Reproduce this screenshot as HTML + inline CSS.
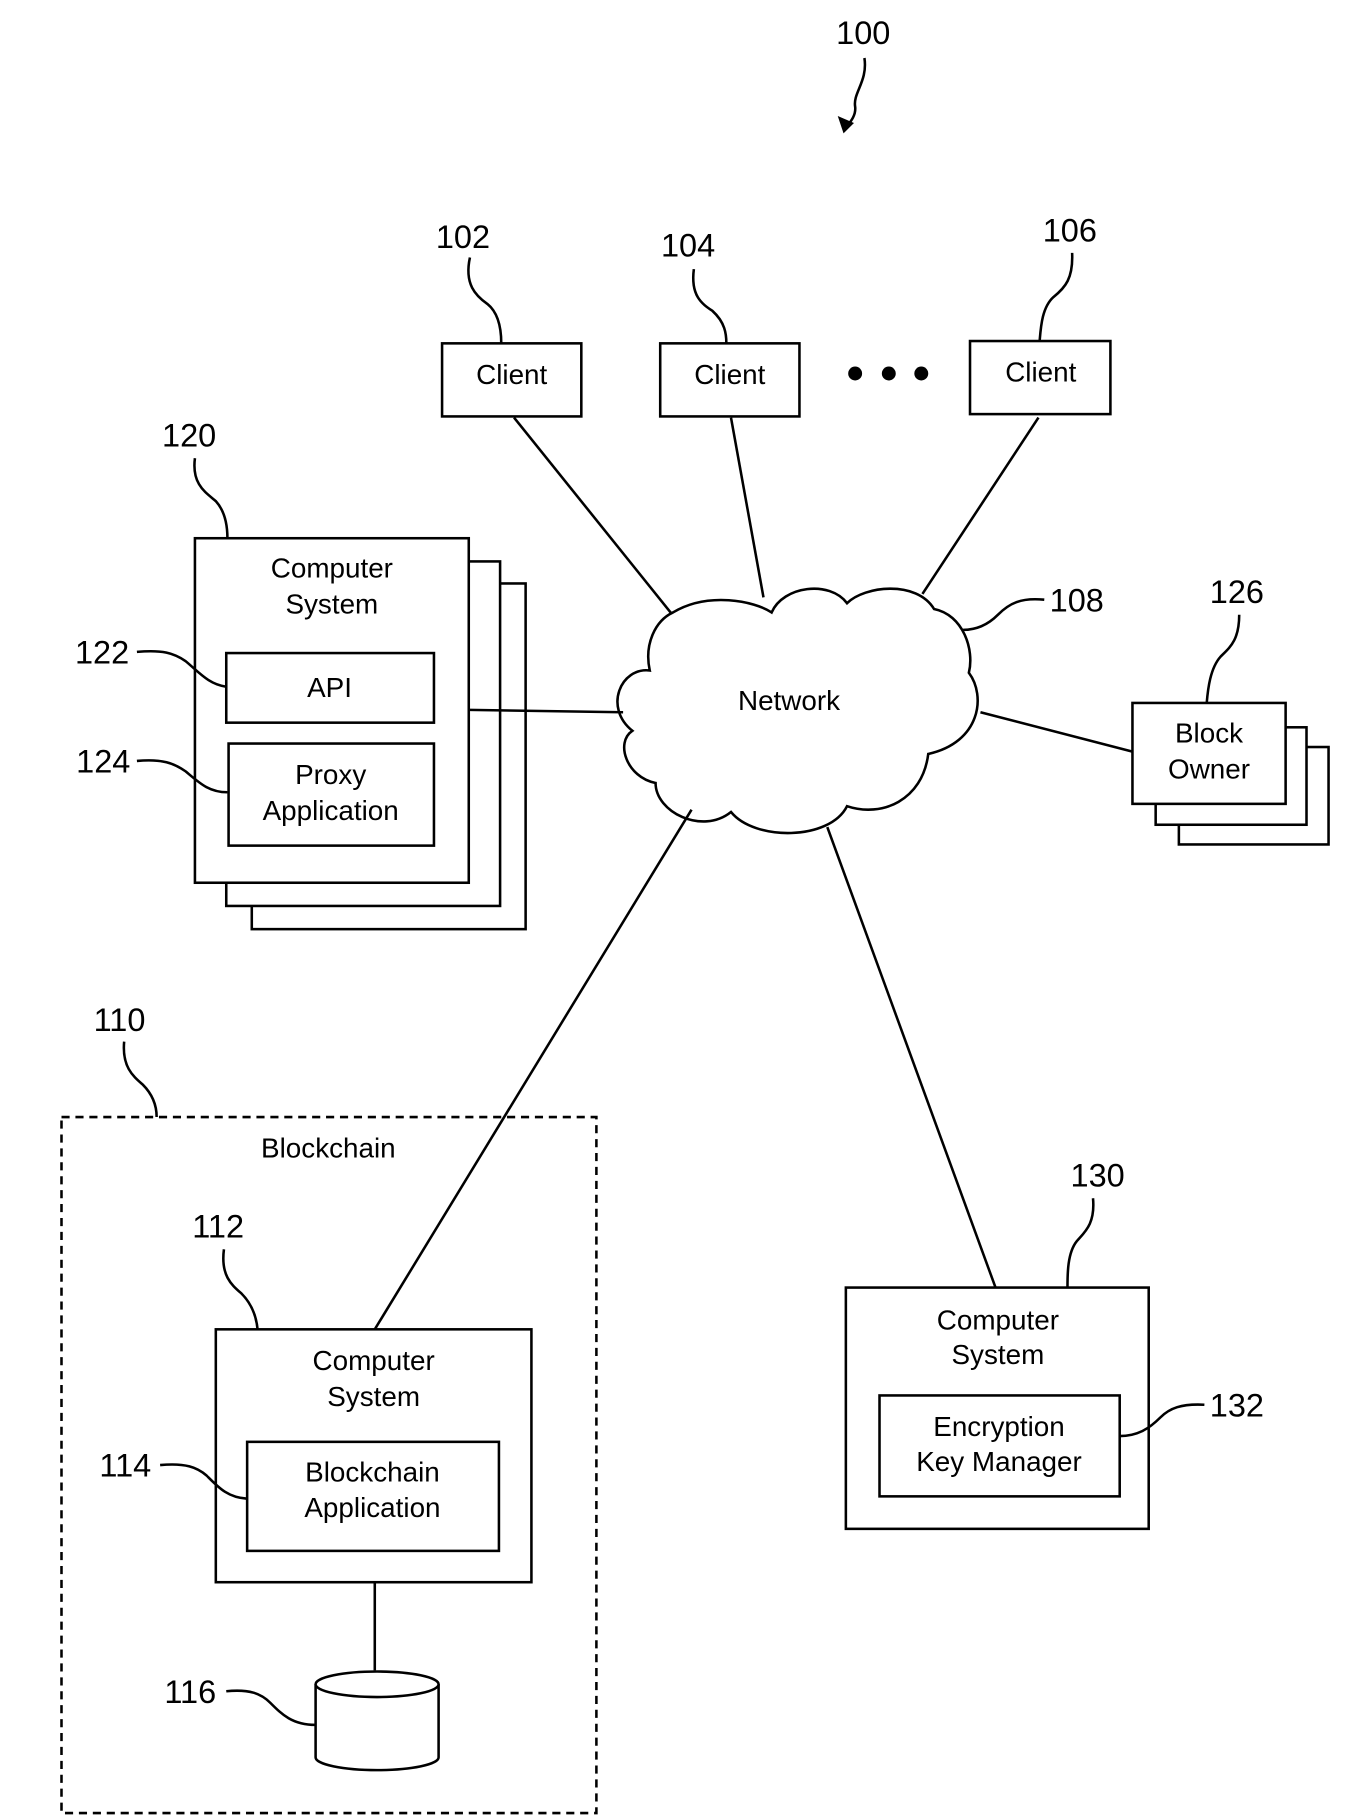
<!DOCTYPE html>
<html><head><meta charset="utf-8"><style>
html,body{margin:0;padding:0;background:#fff;}
svg{display:block;}
text{font-family:"Liberation Sans",Arial,sans-serif;fill:#000;}
</style></head><body>
<svg width="1368" height="1820" viewBox="0 0 1179 1569" preserveAspectRatio="none" xmlns="http://www.w3.org/2000/svg">
<g fill="none" stroke="#000" stroke-width="2.2">
<!-- 100 arrow -->
<path d="M745,50 C748,70 735,80 737,92 C738,100 732,106 729,110"/>
<!-- clients -->
<rect x="381" y="296" width="120" height="63"/>
<rect x="569" y="296" width="120" height="63"/>
<rect x="836" y="294" width="121" height="63"/>
<path d="M405,222 C400,245 410,255 420,262 C430,270 432,285 432,296"/>
<path d="M598,232 C595,255 605,262 614,268 C625,278 626,288 626,296"/>
<path d="M924,218 C925,240 918,248 908,256 C898,265 897,282 896,294"/>
<line x1="443" y1="360" x2="582" y2="533"/>
<line x1="630" y1="360" x2="658" y2="515"/>
<line x1="895" y1="360" x2="795" y2="512"/>
<!-- cloud -->
<path d="M580,528 C610,510 650,518 665,528 C675,505 715,500 730,520 C745,505 790,500 805,525 C830,530 840,560 835,580 C850,600 845,640 800,650 C795,690 760,705 730,695 C715,725 650,725 630,700 C605,720 565,700 565,675 C540,670 530,640 545,630 C520,610 535,575 560,578 C555,555 565,535 580,528 Z" fill="#fff"/>
<path d="M900,517 C880,515 870,520 860,530 C850,540 840,543 830,543"/>
<!-- 120 stack -->
<rect x="217" y="503" width="236" height="298" fill="#fff"/>
<rect x="195" y="484" width="236" height="297" fill="#fff"/>
<rect x="168" y="464" width="236" height="297" fill="#fff"/>
<rect x="195" y="563" width="179" height="60"/>
<rect x="197" y="641" width="177" height="88"/>
<path d="M168,395 C165,418 178,425 186,432 C195,442 196,455 196,464"/>
<path d="M118,562 C140,560 150,563 160,570 C172,580 180,590 195,592"/>
<path d="M118,656 C140,654 150,658 160,665 C172,675 180,683 196,683"/>
<line x1="404" y1="612" x2="537" y2="614"/>
<!-- block owner -->
<rect x="1016" y="644" width="129" height="84" fill="#fff"/>
<rect x="996" y="627" width="130" height="84" fill="#fff"/>
<rect x="976" y="606" width="132" height="87" fill="#fff"/>
<path d="M1068,530 C1068,552 1060,558 1052,566 C1043,576 1041,594 1040,606"/>
<line x1="845" y1="614" x2="976" y2="648"/>
<!-- blockchain -->
<rect x="53" y="963" width="461" height="600" stroke-dasharray="7,5"/>
<path d="M107,898 C105,920 115,928 123,935 C133,945 135,955 135,963"/>
<rect x="186" y="1146" width="272" height="218"/>
<rect x="213" y="1243" width="217" height="94"/>
<path d="M193,1077 C190,1100 200,1108 208,1115 C218,1125 221,1136 222,1146"/>
<path d="M138,1263 C160,1261 170,1265 178,1272 C188,1282 196,1291 213,1292"/>
<line x1="596" y1="698" x2="323" y2="1146"/>
<line x1="323" y1="1364" x2="323" y2="1440"/>
<path d="M272,1452 L272,1515 A53,11 0 0 0 378,1515 L378,1452" fill="#fff"/>
<ellipse cx="325" cy="1452" rx="53" ry="11" fill="#fff"/>
<path d="M195,1458 C215,1456 225,1460 233,1468 C243,1478 252,1487 272,1487"/>
<!-- 130 -->
<rect x="729" y="1110" width="261" height="208"/>
<rect x="758" y="1203" width="207" height="87"/>
<path d="M942,1033 C944,1055 935,1062 928,1070 C920,1080 920,1098 920,1110"/>
<path d="M1038,1211 C1018,1210 1008,1214 1000,1222 C990,1232 980,1238 965,1238"/>
<line x1="713" y1="713" x2="858" y2="1110"/>
</g>
<polygon points="722,100 736,106 727,115" fill="#000"/>
<circle cx="737" cy="322" r="6"/><circle cx="766" cy="322" r="6"/><circle cx="794" cy="322" r="6"/>
<g font-size="28" text-anchor="middle">
<text x="744" y="38">100</text>
<text x="399" y="214">102</text>
<text x="593" y="221">104</text>
<text x="922" y="208">106</text>
<text x="928" y="527">108</text>
<text x="1066" y="520">126</text>
<text x="163" y="385">120</text>
<text x="88" y="572">122</text>
<text x="89" y="666">124</text>
<text x="103" y="889">110</text>
<text x="188" y="1067">112</text>
<text x="108" y="1273">114</text>
<text x="164" y="1468">116</text>
<text x="946" y="1023">130</text>
<text x="1066" y="1221">132</text>
</g>
<g font-size="24" text-anchor="middle">
<text x="441" y="331">Client</text>
<text x="629" y="331">Client</text>
<text x="897" y="329">Client</text>
<text x="680" y="612">Network</text>
<text x="286" y="498">Computer</text>
<text x="286" y="529">System</text>
<text x="284" y="601">API</text>
<text x="285" y="676">Proxy</text>
<text x="285" y="707">Application</text>
<text x="1042" y="640">Block</text>
<text x="1042" y="671">Owner</text>
<text x="283" y="998">Blockchain</text>
<text x="322" y="1181">Computer</text>
<text x="322" y="1212">System</text>
<text x="321" y="1277">Blockchain</text>
<text x="321" y="1308">Application</text>
<text x="860" y="1146">Computer</text>
<text x="860" y="1176">System</text>
<text x="861" y="1238">Encryption</text>
<text x="861" y="1268">Key Manager</text>
</g>
</svg>
</body></html>
